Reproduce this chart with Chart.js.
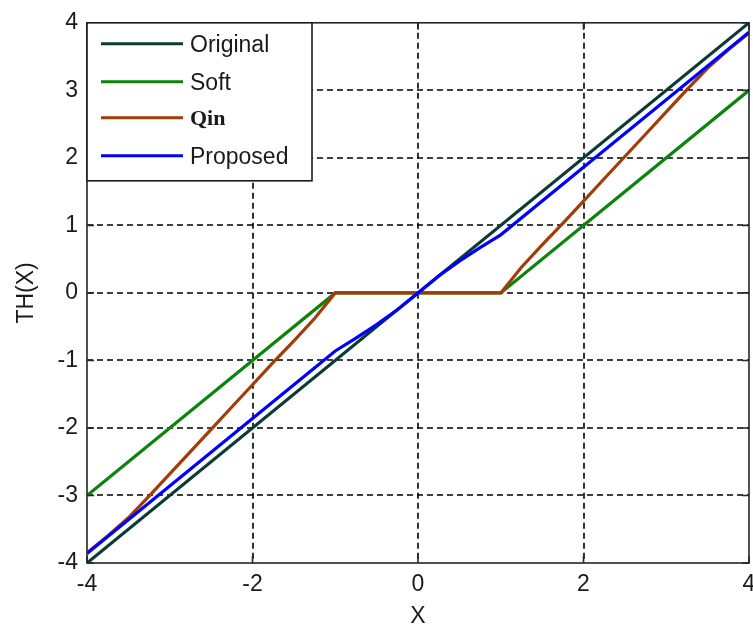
<!DOCTYPE html>
<html>
<head>
<meta charset="utf-8">
<script src="https://cdn.jsdelivr.net/npm/chart.js@4.4.1/dist/chart.umd.min.js"></script>
<style>
  html, body { margin: 0; padding: 0; background: #fff; }
  #wrap { width: 753px; height: 630px; }
</style>
</head>
<body>
<div id="wrap"><canvas id="thChart" width="753" height="630"></canvas></div>
<script>
// threshold functions TH(X) sampled along X
const originalX = [-4, 4];
const originalY = [-4, 4];

const softX = [-4, -1, 1, 4];
const softY = [-3, 0, 0, 3];

const qinX = [-4, -3.75, -3.5, -3.25, -3, -2.75, -2.5, -2.25, -2, -1.75, -1.5, -1.25, -1,
              1, 1.25, 1.5, 1.75, 2, 2.25, 2.5, 2.75, 3, 3.25, 3.5, 3.75, 4];
const qinY = [-3.85, -3.6, -3.33, -3.01, -2.68, -2.35, -2.02, -1.69, -1.36, -1.03, -0.71, -0.38, 0,
              0, 0.38, 0.71, 1.03, 1.36, 1.69, 2.02, 2.35, 2.68, 3.01, 3.33, 3.6, 3.85];

const proposedX = [-4, -3, -2, -1, -0.75, -0.5, -0.25, 0, 0.25, 0.5, 0.75, 1, 2, 3, 4];
const proposedY = [-3.86, -2.86, -1.86, -0.86, -0.67, -0.47, -0.25, 0, 0.25, 0.47, 0.67, 0.86, 1.86, 2.86, 3.86];

const xTicks = [-4, -2, 0, 2, 4];
const yTicks = [-4, -3, -2, -1, 0, 1, 2, 3, 4];

const seriesNames = ['Original', 'Soft', 'Qin', 'Proposed'];
const seriesColors = ['#0c3b36', '#0a840a', '#a23c08', '#0000ff'];
const legendFonts = ['23px "Liberation Sans", Arial', '23px "Liberation Sans", Arial',
                     'bold 22px "Liberation Serif", "Times New Roman"', '23px "Liberation Sans", Arial'];

const toPoints = (xs, ys) => xs.map((x, i) => ({ x, y: ys[i] }));

const TEXT = '#1a1a1a';
const FONT = { family: '"Liberation Sans", Arial, sans-serif', size: 23 };

// dashed grid, inward ticks and the box frame, drawn like a matlab axes
const axesFrame = {
    id: 'axesFrame',
    beforeDatasetsDraw(chart) {
        const { ctx, chartArea: a, scales: { x, y } } = chart;
        ctx.save();
        ctx.strokeStyle = '#000';
        ctx.lineWidth = 1.6;
        ctx.setLineDash([6, 4]);
        xTicks.forEach(v => {
            const px = Math.round(x.getPixelForValue(v));
            if (px <= a.left + 1 || px >= a.right - 1) return;
            ctx.beginPath(); ctx.moveTo(px, a.top); ctx.lineTo(px, a.bottom); ctx.stroke();
        });
        yTicks.forEach(v => {
            const py = Math.round(y.getPixelForValue(v));
            if (py <= a.top + 1 || py >= a.bottom - 1) return;
            ctx.beginPath(); ctx.moveTo(a.left, py); ctx.lineTo(a.right, py); ctx.stroke();
        });
        ctx.restore();
    },
    afterDatasetsDraw(chart) {
        const { ctx, chartArea: a, scales: { x, y } } = chart;
        const len = 7;
        ctx.save();
        ctx.strokeStyle = '#262626';
        ctx.lineWidth = 1.6;
        ctx.beginPath();
        xTicks.forEach(v => {
            const px = x.getPixelForValue(v);
            ctx.moveTo(px, a.bottom); ctx.lineTo(px, a.bottom - len);
            ctx.moveTo(px, a.top); ctx.lineTo(px, a.top + len);
        });
        yTicks.forEach(v => {
            const py = y.getPixelForValue(v);
            ctx.moveTo(a.left, py); ctx.lineTo(a.left + len, py);
            ctx.moveTo(a.right, py); ctx.lineTo(a.right - len, py);
        });
        ctx.stroke();
        ctx.strokeRect(a.left, a.top, a.right - a.left, a.bottom - a.top);
        ctx.restore();
    }
};

// boxed legend in the upper left corner of the axes
const boxLegend = {
    id: 'boxLegend',
    afterDraw(chart) {
        const { ctx, chartArea: a } = chart;
        const w = 225, h = 158;
        ctx.save();
        ctx.fillStyle = '#fff';
        ctx.fillRect(a.left, a.top, w, h);
        ctx.strokeStyle = '#1a1a1a';
        ctx.lineWidth = 1.6;
        ctx.strokeRect(a.left, a.top, w, h);
        const rows = [21, 59, 95, 133];
        seriesNames.forEach((name, i) => {
            const ry = a.top + rows[i];
            ctx.strokeStyle = seriesColors[i];
            ctx.lineWidth = 3;
            ctx.beginPath();
            ctx.moveTo(a.left + 14, ry);
            ctx.lineTo(a.left + 96, ry);
            ctx.stroke();
            ctx.fillStyle = TEXT;
            ctx.font = legendFonts[i];
            ctx.textBaseline = 'middle';
            ctx.fillText(name, a.left + 103, ry + 2);
        });
        ctx.restore();
    }
};

const datasets = [
    toPoints(originalX, originalY),
    toPoints(softX, softY),
    toPoints(qinX, qinY),
    toPoints(proposedX, proposedY)
].map((data, i) => ({
    label: seriesNames[i],
    data,
    borderColor: seriesColors[i],
    backgroundColor: seriesColors[i],
    borderWidth: 3.2,
    pointRadius: 0,
    showLine: true,
    tension: 0,
    order: 4 - i
}));

new Chart(document.getElementById('thChart'), {
    type: 'scatter',
    data: { datasets },
    options: {
        responsive: false,
        animation: false,
        layout: { padding: { top: 20, right: 4, left: 0, bottom: 0 } },
        plugins: {
            legend: { display: false },
            tooltip: { enabled: false }
        },
        scales: {
            x: {
                type: 'linear',
                min: -4,
                max: 4,
                afterFit(scale) {
                    scale.height = 67;
                    scale.paddingLeft = 0;
                    scale.paddingRight = 0;
                },
                afterBuildTicks(scale) {
                    scale.ticks = xTicks.map(v => ({ value: v }));
                },
                grid: { display: false, drawTicks: false },
                border: { display: false },
                ticks: { color: TEXT, font: FONT, padding: 8, maxRotation: 0 },
                title: { display: true, text: 'X', color: TEXT, font: FONT, padding: { top: 0, bottom: 0 } }
            },
            y: {
                type: 'linear',
                min: -4,
                max: 4,
                afterFit(scale) {
                    scale.width = 87;
                },
                afterBuildTicks(scale) {
                    scale.ticks = yTicks.map(v => ({ value: v }));
                },
                grid: { display: false, drawTicks: false },
                border: { display: false },
                ticks: { color: TEXT, font: FONT, padding: 9 },
                title: { display: true, text: 'TH(X)', color: TEXT, font: FONT, padding: { top: 13, bottom: 0 } }
            }
        }
    },
    plugins: [axesFrame, boxLegend]
});
</script>
</body>
</html>
